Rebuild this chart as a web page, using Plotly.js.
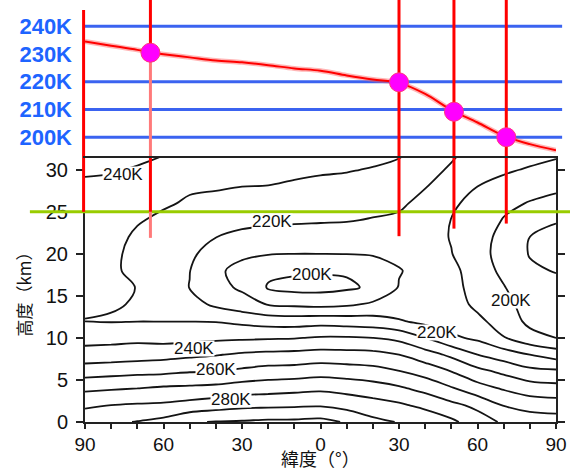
<!DOCTYPE html>
<html>
<head>
<meta charset="utf-8">
<script src="https://cdn.plot.ly/plotly-3.0.1.min.js"></script>
<style>html,body{margin:0;padding:0;background:#fff}#chart{width:570px;height:472px}</style>
</head>
<body>
<div id="chart"></div>
<script>
// ---- contour data: temperature (K) vs latitude and altitude ----
const latitudes = [-90,-80,-70,-60,-50,-40,-30,-20,-10,0,10,20,30,40,50,60,70,80,90];
const altitudes = [0,2,4,6,8,10,12,14,16,18,20,22,24,26,28,30,32];
// one profile per latitude, values at the altitudes above
const temperatureProfiles = [
  [286,278.5,268,255.5,244,236.5,229.9,230.6,231.8,232.3,233,233.5,234,235.2,238,241.5,244.5],
  [288,280,269,256.5,244.5,237,229.5,230.5,231,231,231.5,232,232.7,233.8,237,241,244],
  [290.5,281,270,257.5,245.5,237.5,229.8,229.6,229.9,228.5,228,229,230.5,232.5,235.5,239,243],
  [293,281.5,271.5,258,246.5,236.5,229.8,227,225,224.5,225.5,227,228.8,230.7,233,237,240.5],
  [299,283.5,272,259.5,248,237,229.8,224,219.8,220.2,222.5,225,227.5,229.3,230.7,234.5,237.5],
  [300.5,285.5,273,260,249.5,238,229.5,218,213,211.5,214,220.2,225,228.5,230.5,234,237],
  [301,287.5,275,262,251.5,238.5,227.5,214,208.5,207.5,211.5,216.5,224,229,230,233,236],
  [302,288,276,264,252.5,239,225.5,209.5,199,202.5,210.5,215.5,222.5,228,229.8,232.5,235],
  [302,288.5,277,264.5,253,239.5,225,208,197,201.5,210,215,221.5,227.5,229,231.5,234],
  [303,289,278,266,254,241,226,207,197,201,210,215,221,226,228,231,233],
  [299,286.5,276.5,265,253.5,241,225,208.5,198.5,201,210.2,215.5,220.5,224,227.5,230.5,233],
  [292.5,284,274.5,263.5,253,240,224,211.5,201.5,202.5,211,215.5,219.5,222.5,226,229.5,232.5],
  [289.5,281.5,271.5,260.5,250,237.5,221,213,210.5,209.5,212,215,218,222,225,228,231],
  [287,277.5,267,256,244.5,230,217,214,213,213,213.5,214,215,216.5,220.5,224,227],
  [282,272.5,261,250,238,222,215,214,213.5,213,210.3,209.5,209.8,211.5,214.5,218.5,222],
  [275,267.5,254,243,230,218,212,208,206,204.5,203.5,203.5,205,207,210,213,216],
  [268.5,259.5,249,238,225,210.5,206,203,200.5,198,196.5,197.5,199.5,202,206.5,211.5,215],
  [266,256,245,233,220,203.5,197.5,196,194,191.5,189.5,190,194,199.5,203,209,214],
  [265,255,243.5,232,215.5,200,197,195,193,189.5,187.5,188,190.5,198.5,201,206.5,212]
];
const contourLevels = {start: 190, end: 300, step: 10};

// ---- top panel: temperature at 25 km ----
const curveLatitudes = [-90,-80,-70,-65,-60,-50,-40,-30,-20,-10,0,10,20,30,40,50,60,70,80,90];
const curveTemps = [234.5,233,231.5,230.5,229.9,228.8,227.7,227,226,224.8,224,222.3,220.8,219.6,215.6,209.8,205.3,200.5,197.5,195.3];
const pointLatitudes = [-65,30,51,71];
const pointTemps = [230.5,219.8,209.2,200];
const tempTicks = [200,210,220,230,240];
const blueLineTemps = [200,210,220,240];
const sliceAltitude = 25;

// ---- tick labels ----
const latTickVals = [-90,-60,-30,0,30,60,90];
const latTickText = ['90','60','30','0','30','60','90'];
const altTickVals = [0,5,10,15,20,25,30];

// ---- contour labels (level, lat, alt) ----
const labelLevels = [240,220,200,200,220,240,260,280];
const labelLats   = [-75.5,-18.5,-3.2,72.8,44.5,-48.3,-40,-34.2];
const labelAlts   = [29.4,23.8,17.5,14.4,10.7,8.8,6.2,2.7];

// guide lines lower ends (km)
const guideEndAlts = [21.9,22.1,23.0,23.6];

// build z (rows = altitude)
const z = altitudes.map((a, j) => latitudes.map((l, i) => temperatureProfiles[i][j]));

const tRange = [192.5, 249.5];
const altRange = [0, 31.4];
const splitY = 0.6256;
const RED = '#ff0000', PINK = '#ff7a7a', BLUE = '#3b63f0';

const traces = [
  {type:'contour', x: latitudes, y: altitudes, z: z, xaxis:'x2', yaxis:'y2',
   contours:{start:contourLevels.start, end:contourLevels.end, size:contourLevels.step, coloring:'none', showlabels:false},
   line:{color:'#141414', width:1.8, smoothing:1}, showscale:false, hoverinfo:'skip'},
  {type:'scatter', mode:'lines', x: curveLatitudes, y: curveTemps, xaxis:'x', yaxis:'y',
   line:{color:'rgba(255,90,90,0.45)', width:5, shape:'spline'}, hoverinfo:'skip'},
  {type:'scatter', mode:'lines', x: curveLatitudes, y: curveTemps, xaxis:'x', yaxis:'y',
   line:{color:RED, width:2, shape:'spline'}, hoverinfo:'skip'},
  {type:'scatter', mode:'markers', x: pointLatitudes, y: pointTemps, xaxis:'x', yaxis:'y',
   marker:{color:'#ff00ff', size:19, line:{color:'#ff3380', width:1}}, cliponaxis:false, hoverinfo:'skip'}
];

const shapes = [];
// blue horizontal lines (top panel)
blueLineTemps.forEach(t => shapes.push({type:'line', xref:'paper', yref:'y', x0:-0.004, x1:1.013, y0:t, y1:t,
  line:{color:BLUE, width:3}, layer:'below'}));
// green 25 km line
shapes.push({type:'line', xref:'paper', yref:'y2', x0:-0.117, x1:1.03, y0:sliceAltitude, y1:sliceAltitude,
  line:{color:'#99cc00', width:3}, layer:'above'});
// left guide at -90
shapes.push({type:'line', xref:'paper', yref:'y', x0:-0.003, x1:-0.003, y0:tRange[0], y1:245.9, line:{color:RED, width:3}, layer:'below'});
shapes.push({type:'line', xref:'paper', yref:'y2', x0:-0.003, x1:-0.003, y0:sliceAltitude, y1:altRange[1], line:{color:RED, width:3}, layer:'above'});
// guides through points
pointLatitudes.forEach((lat, k) => {
  if (k === 0) {
    shapes.push({type:'line', xref:'x', yref:'y', x0:lat, x1:lat, y0:pointTemps[k], y1:tRange[1], line:{color:RED, width:3}, layer:'below'});
    shapes.push({type:'line', xref:'x', yref:'y', x0:lat, x1:lat, y0:tRange[0], y1:pointTemps[k], line:{color:PINK, width:3}, layer:'below'});
    shapes.push({type:'line', xref:'x2', yref:'y2', x0:lat, x1:lat, y0:sliceAltitude, y1:altRange[1], line:{color:RED, width:3}, layer:'above'});
    shapes.push({type:'line', xref:'x2', yref:'y2', x0:lat, x1:lat, y0:guideEndAlts[k], y1:sliceAltitude, line:{color:PINK, width:3}, layer:'above'});
  } else {
    shapes.push({type:'line', xref:'x', yref:'y', x0:lat, x1:lat, y0:tRange[0], y1:tRange[1], line:{color:RED, width:3}, layer:'below'});
    shapes.push({type:'line', xref:'x2', yref:'y2', x0:lat, x1:lat, y0:guideEndAlts[k], y1:altRange[1], line:{color:RED, width:3}, layer:'above'});
  }
});

const NUMFONT = 'Liberation Sans, Arial, sans-serif';
const CJK = 'Noto Sans CJK JP, sans-serif';

const annotations = labelLevels.map((lv, i) => ({
  x: labelLats[i], y: labelAlts[i], xref:'x2', yref:'y2', text: lv + 'K', showarrow:false,
  font:{family:NUMFONT, size:17, color:'#111'},
  bgcolor:'#ffffff', borderpad:0, height:15
}));
// x-axis title
annotations.push({x:0.5, y:0, xref:'paper', yref:'paper', yanchor:'bottom', yshift:-50, borderpad:0,
  text:'緯度（°）', showarrow:false, font:{family:CJK, size:18, color:'#111'}});

const layout = {
  width:570, height:472,
  margin:{l:85, r:14, t:0, b:50},
  paper_bgcolor:'#fff', plot_bgcolor:'rgba(0,0,0,0)',
  showlegend:false,
  xaxis:{domain:[0,1], range:[-90,90], anchor:'y', visible:false, fixedrange:true},
  yaxis:{domain:[splitY,1], range:tRange, anchor:'x', tickvals:tempTicks, ticktext:tempTicks.map(t => t + 'K'),
         showgrid:false, zeroline:false, showline:false, ticks:'', ticklabelstandoff:12,
         tickfont:{family:NUMFONT, size:22, color:'#1e64ff', weight:'bold'}},
  xaxis2:{domain:[0,1], range:[-90,90], anchor:'y2', tickvals:latTickVals, ticktext:latTickText,
          ticks:'outside', ticklen:5, tickwidth:2, tickcolor:'#222',
          minor:{dtick:10, ticks:'outside', ticklen:5, tickwidth:2, tickcolor:'#222'},
          showline:true, linewidth:2, linecolor:'#222', mirror:true, showgrid:false, zeroline:false,
          ticklabelstandoff:-1,
          tickfont:{family:NUMFONT, size:19, color:'#111'}},
  yaxis2:{domain:[0,splitY], range:altRange, anchor:'x2', tickvals:altTickVals,
          ticks:'outside', ticklen:7, tickwidth:2, tickcolor:'#222',
          showline:true, linewidth:2, linecolor:'#222', mirror:'ticks', showgrid:false, zeroline:false,
          ticklabelstandoff:4,
          tickfont:{family:NUMFONT, size:20, color:'#111'},
          title:{text:'高度（km）', font:{family:CJK, size:17, color:'#111'}, standoff:10}},
  shapes: shapes,
  annotations: annotations
};

Plotly.newPlot('chart', traces, layout, {displayModeBar:false, staticPlot:true});
</script>
</body>
</html>
